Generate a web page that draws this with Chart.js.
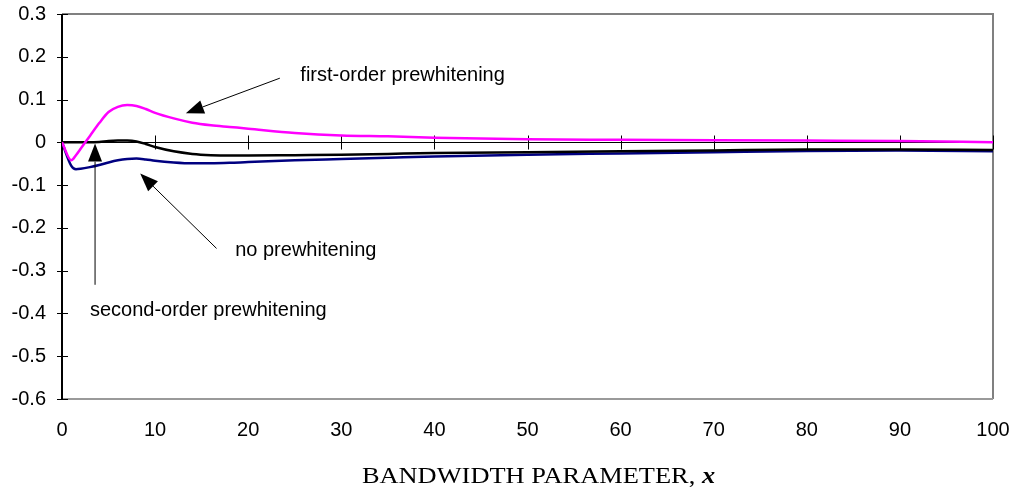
<!DOCTYPE html>
<html>
<head>
<meta charset="utf-8">
<script src="https://cdn.jsdelivr.net/npm/chart.js@4.4.0/dist/chart.umd.min.js"></script>
<style>
  body { margin: 0; background: #fff; }
  canvas { display: block; }
</style>
</head>
<body>
<canvas id="myChart" width="1013" height="492"></canvas>
<script>
// bandwidth parameter values
const xs = [0, 1, 1.5, 2, 3, 4, 5, 6, 7, 8, 9, 10, 12, 14, 16, 18, 20, 25, 30, 35, 40, 50, 60, 70, 80, 90, 100];

// first-order prewhitening (magenta)
const firstOrder = [0, -0.042, -0.030, -0.015, 0.015, 0.045, 0.071, 0.083, 0.087, 0.085, 0.078, 0.069, 0.056, 0.046, 0.040, 0.036, 0.032, 0.022, 0.016, 0.014, 0.011, 0.007, 0.006, 0.005, 0.004, 0.003, 0.000];

// second-order prewhitening (black)
const secondOrder = [0, 0, 0, 0, 0, 0.001, 0.003, 0.004, 0.004, 0.002, -0.004, -0.011, -0.021, -0.027, -0.030, -0.031, -0.031, -0.030, -0.029, -0.027, -0.025, -0.023, -0.021, -0.019, -0.017, -0.017, -0.018];

// no prewhitening (navy)
const noPrewhite = [0, -0.055, -0.063, -0.062, -0.058, -0.053, -0.047, -0.042, -0.039, -0.038, -0.040, -0.043, -0.047, -0.049, -0.049, -0.048, -0.046, -0.042, -0.039, -0.036, -0.033, -0.029, -0.026, -0.023, -0.020, -0.019, -0.021];

// annotation labels and arrows, in data units
const notes = [
  { text: 'first-order prewhitening', x: 25.6, y: 0.157, from: [23.4, 0.150], to: [13.3, 0.068] },
  { text: 'no prewhitening', x: 18.6, y: -0.253, from: [16.6, -0.248], to: [8.4, -0.073] },
  { text: 'second-order prewhitening', x: 3.0, y: -0.394, from: [3.55, -0.333], to: [3.55, -0.003] }
];

function pts(ys) {
  return xs.map((x, i) => ({ x: x, y: ys[i] }));
}

function arrow(ctx, x1, y1, x2, y2) {
  const ang = Math.atan2(y2 - y1, x2 - x1);
  const len = 18, half = 7;
  const bx = x2 - len * Math.cos(ang), by = y2 - len * Math.sin(ang);
  ctx.beginPath();
  ctx.moveTo(x1, y1);
  ctx.lineTo(bx, by);
  ctx.stroke();
  ctx.beginPath();
  ctx.moveTo(x2, y2);
  ctx.lineTo(bx + half * Math.sin(ang), by - half * Math.cos(ang));
  ctx.lineTo(bx - half * Math.sin(ang), by + half * Math.cos(ang));
  ctx.closePath();
  ctx.fill();
}

const frame = {
  id: 'frame',
  beforeDatasetsDraw(chart) {
    const ctx = chart.ctx;
    const a = chart.chartArea;
    const sx = chart.scales.x, sy = chart.scales.y;
    ctx.save();
    // grey plot border
    ctx.strokeStyle = '#808080';
    ctx.lineWidth = 2;
    ctx.beginPath();
    ctx.moveTo(a.left, a.top);
    ctx.lineTo(a.right, a.top);
    ctx.lineTo(a.right, a.bottom);
    ctx.stroke();
    ctx.strokeStyle = '#9a9a9a';
    ctx.beginPath();
    ctx.moveTo(a.left, a.bottom);
    ctx.lineTo(a.right, a.bottom);
    ctx.stroke();
    // y axis
    ctx.strokeStyle = '#000';
    ctx.lineWidth = 2;
    ctx.beginPath();
    ctx.moveTo(a.left, a.top);
    ctx.lineTo(a.left, a.bottom);
    ctx.stroke();
    ctx.lineWidth = 1;
    sy.ticks.forEach(t => {
      const y = Math.round(sy.getPixelForValue(t.value)) + 0.5;
      ctx.beginPath();
      ctx.moveTo(a.left - 5, y);
      ctx.lineTo(a.left + 6, y);
      ctx.stroke();
    });
    // x axis at zero
    const y0 = Math.round(sy.getPixelForValue(0)) + 0.5;
    ctx.beginPath();
    ctx.moveTo(a.left, y0);
    ctx.lineTo(a.right, y0);
    ctx.stroke();
    sx.ticks.forEach(t => {
      if (t.value === 0) return;
      const x = Math.round(sx.getPixelForValue(t.value)) + 0.5;
      ctx.beginPath();
      ctx.moveTo(x, y0 - 7);
      ctx.lineTo(x, y0 + 7);
      ctx.stroke();
    });
    ctx.restore();
  },
  afterDraw(chart) {
    const ctx = chart.ctx;
    const a = chart.chartArea;
    const sx = chart.scales.x, sy = chart.scales.y;
    ctx.save();
    // annotations
    ctx.fillStyle = '#000';
    ctx.strokeStyle = '#000';
    ctx.lineWidth = 1;
    ctx.font = '20px "Liberation Sans", Arial, sans-serif';
    ctx.textBaseline = 'middle';
    ctx.textAlign = 'left';
    notes.forEach(n => {
      ctx.fillText(n.text, sx.getPixelForValue(n.x), sy.getPixelForValue(n.y));
      arrow(ctx, sx.getPixelForValue(n.from[0]), sy.getPixelForValue(n.from[1]),
        sx.getPixelForValue(n.to[0]), sy.getPixelForValue(n.to[1]));
    });
    // axis title
    const t1 = 'BANDWIDTH PARAMETER, ';
    const t2 = 'x';
    const stretch = 1.1;
    ctx.textBaseline = 'alphabetic';
    ctx.font = '24px "Liberation Serif", "Times New Roman", serif';
    const w1 = ctx.measureText(t1).width;
    ctx.font = 'italic bold 24px "Liberation Serif", "Times New Roman", serif';
    const w2 = ctx.measureText(t2).width;
    const total = (w1 + w2) * stretch;
    const cx = (a.left + a.right) / 2 + 11;
    ctx.translate(cx - total / 2, 483);
    ctx.scale(stretch, 1);
    ctx.font = '24px "Liberation Serif", "Times New Roman", serif';
    ctx.fillText(t1, 0, 0);
    ctx.font = 'italic bold 24px "Liberation Serif", "Times New Roman", serif';
    ctx.fillText(t2, w1, 0);
    ctx.restore();
  }
};

const ctx = document.getElementById('myChart');
const myChart = new Chart(ctx, {
  type: 'line',
  data: {
    datasets: [
      { label: 'first-order prewhitening', data: pts(firstOrder), borderColor: '#ff00ff' },
      { label: 'second-order prewhitening', data: pts(secondOrder), borderColor: '#000000' },
      { label: 'no prewhitening', data: pts(noPrewhite), borderColor: '#000080' }
    ]
  },
  options: {
    responsive: false,
    animation: false,
    layout: { padding: { top: 14, right: 20, left: 0, bottom: 0 } },
    elements: {
      line: { borderWidth: 2.5, fill: false, cubicInterpolationMode: 'monotone' },
      point: { radius: 0 }
    },
    plugins: { legend: { display: false }, tooltip: { enabled: false } },
    scales: {
      x: {
        type: 'linear',
        min: 0, max: 100,
        grid: { display: false, drawTicks: false },
        border: { display: false },
        ticks: {
          stepSize: 10, maxRotation: 0, autoSkip: false, padding: 19,
          color: '#000', font: { family: '"Liberation Sans", Arial, sans-serif', size: 20 }
        },
        afterFit(scale) {
          scale.height = 93;
          scale.paddingLeft = 0;
          scale.paddingRight = 0;
        }
      },
      y: {
        min: -0.6, max: 0.3,
        grid: { display: false, drawTicks: false },
        border: { display: false },
        ticks: {
          stepSize: 0.1, padding: 16,
          color: '#000', font: { family: '"Liberation Sans", Arial, sans-serif', size: 20 },
          callback: v => String(Math.round(v * 10) / 10 || 0)
        },
        afterFit(scale) {
          scale.width = 62;
          scale.paddingTop = 0;
          scale.paddingBottom = 0;
        }
      }
    }
  },
  plugins: [frame]
});
</script>
</body>
</html>
